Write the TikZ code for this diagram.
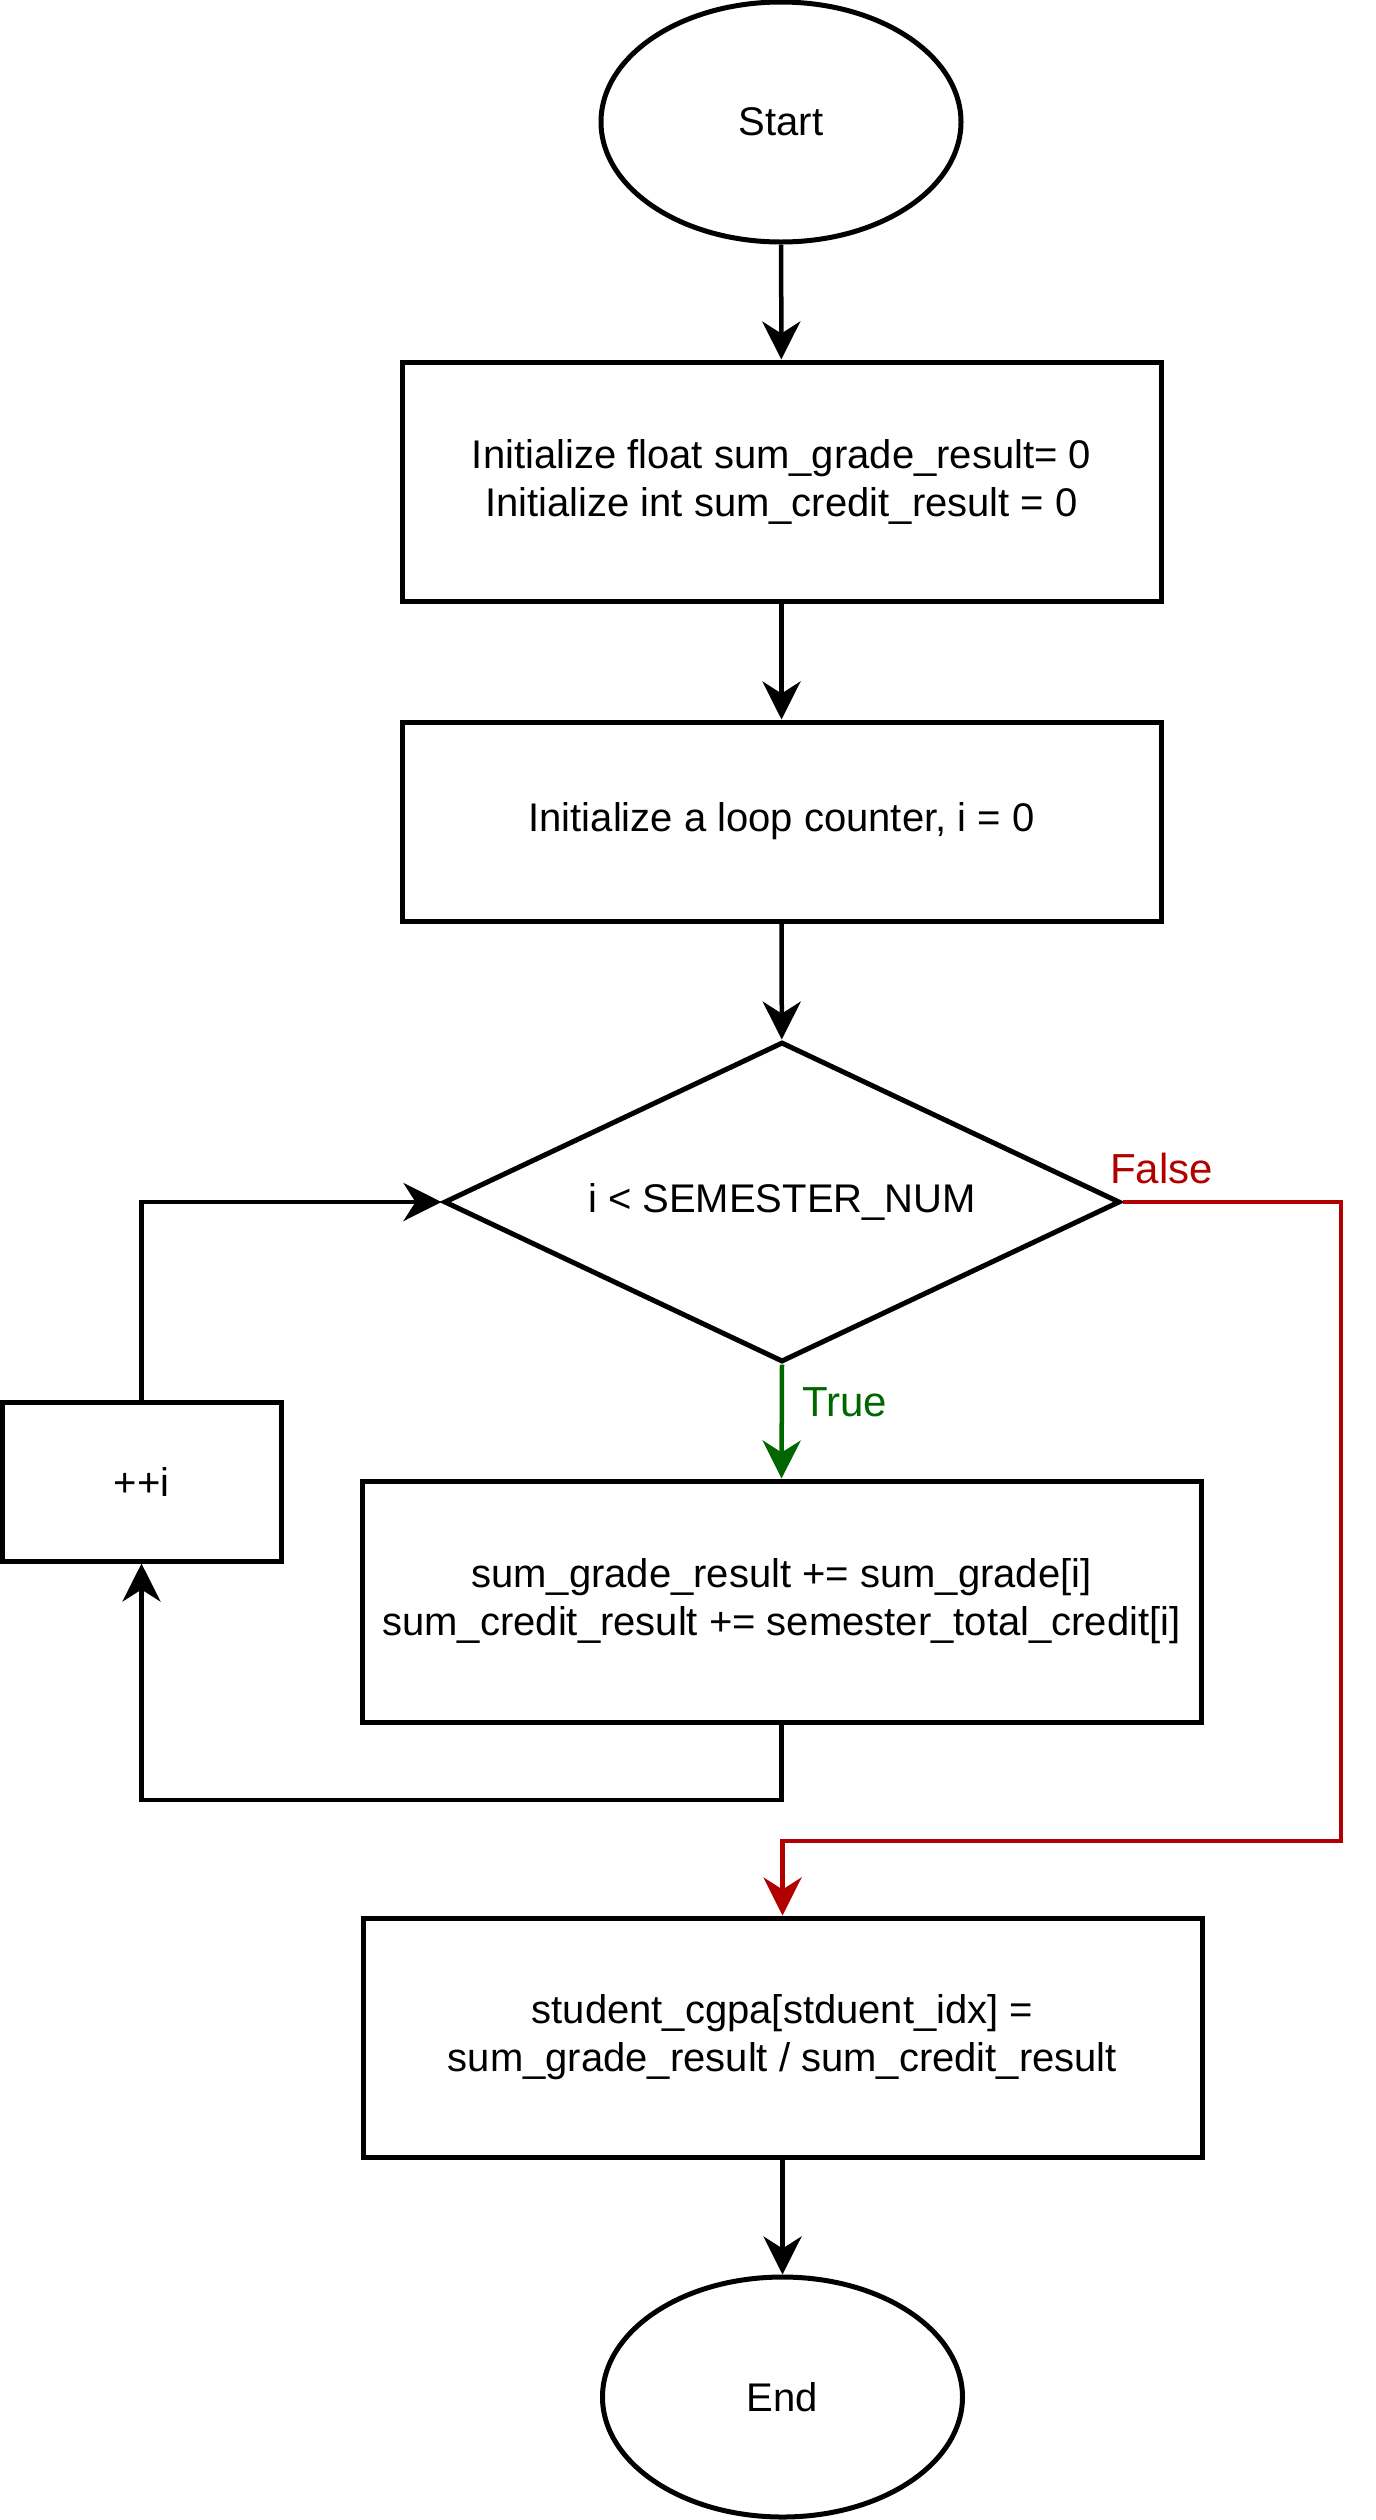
\documentclass[tikz,border=0pt]{standalone}
\usepackage{fontspec}
\setmainfont{Liberation Sans}
\usetikzlibrary{shapes.geometric,arrows.meta}
\definecolor{falsered}{HTML}{B20000}
\definecolor{truegreen}{HTML}{006600}
\begin{document}
\begin{tikzpicture}[x=1pt,y=-1pt,
  every node/.style={font=\fontsize{40}{48}\selectfont, align=center, inner sep=0pt},
  procbox/.style={draw, line width=5pt, rectangle},
  terminal/.style={draw, line width=5pt, ellipse, minimum width=360pt, minimum height=240pt},
  decision/.style={draw, line width=5pt, diamond, aspect=2.11, minimum width=676pt, minimum height=320pt},
  conn/.style={line width=4.5pt, -{Stealth[length=38pt,width=38pt,inset=12pt]}},
  lbl/.style={font=\fontsize{42}{50}\selectfont}
]
\useasboundingbox (0,0) rectangle (1376,2520);
\node[terminal] (start) at (781,122) {Start};
\node[procbox, minimum width=759pt, minimum height=239pt] (init1) at (781.5,481.5) {Initialize float sum\_grade\_result= 0\\Initialize int sum\_credit\_result = 0};
\node[procbox, minimum width=759pt, minimum height=199pt] (init2) at (781.5,821.5) {Initialize a loop counter, i = 0};
\node[decision] (dec) at (782,1202) {i < SEMESTER\_NUM};
\node[procbox, minimum width=279pt, minimum height=159pt] (inc) at (141.5,1481.5) {++i};
\node[procbox, minimum width=839pt, minimum height=241pt] (body) at (781.5,1601.5) {sum\_grade\_result += sum\_grade[i]\\sum\_credit\_result += semester\_total\_credit[i]};
\node[procbox, minimum width=839pt, minimum height=239pt] (calc) at (782.5,2037.5) {student\_cgpa[stduent\_idx] =\\sum\_grade\_result / sum\_credit\_result};
\node[terminal] (end) at (782.5,2397) {End};

\coordinate (loopc) at (781.5,1800);
\coordinate (falsec) at (1341,1841);

\draw[conn] (start) -- (init1);
\draw[conn] (init1) -- (init2);
\draw[conn] (init2) -- (dec);
\draw[conn, draw=truegreen] (dec.south) -- (body.north);
\draw[conn] (body.south) -- (loopc) -| (inc.south);
\draw[conn] (inc.north) |- (dec.west);
\draw[conn, draw=falsered] (dec.east) -| (falsec) -| (calc.north);
\draw[conn] (calc) -- (end);

\node[lbl, text=falsered, anchor=west] (flbl) at (1110,1168) {False};
\node[lbl, text=truegreen, anchor=west] (tlbl) at (802,1402) {True};
\end{tikzpicture}
\end{document}
